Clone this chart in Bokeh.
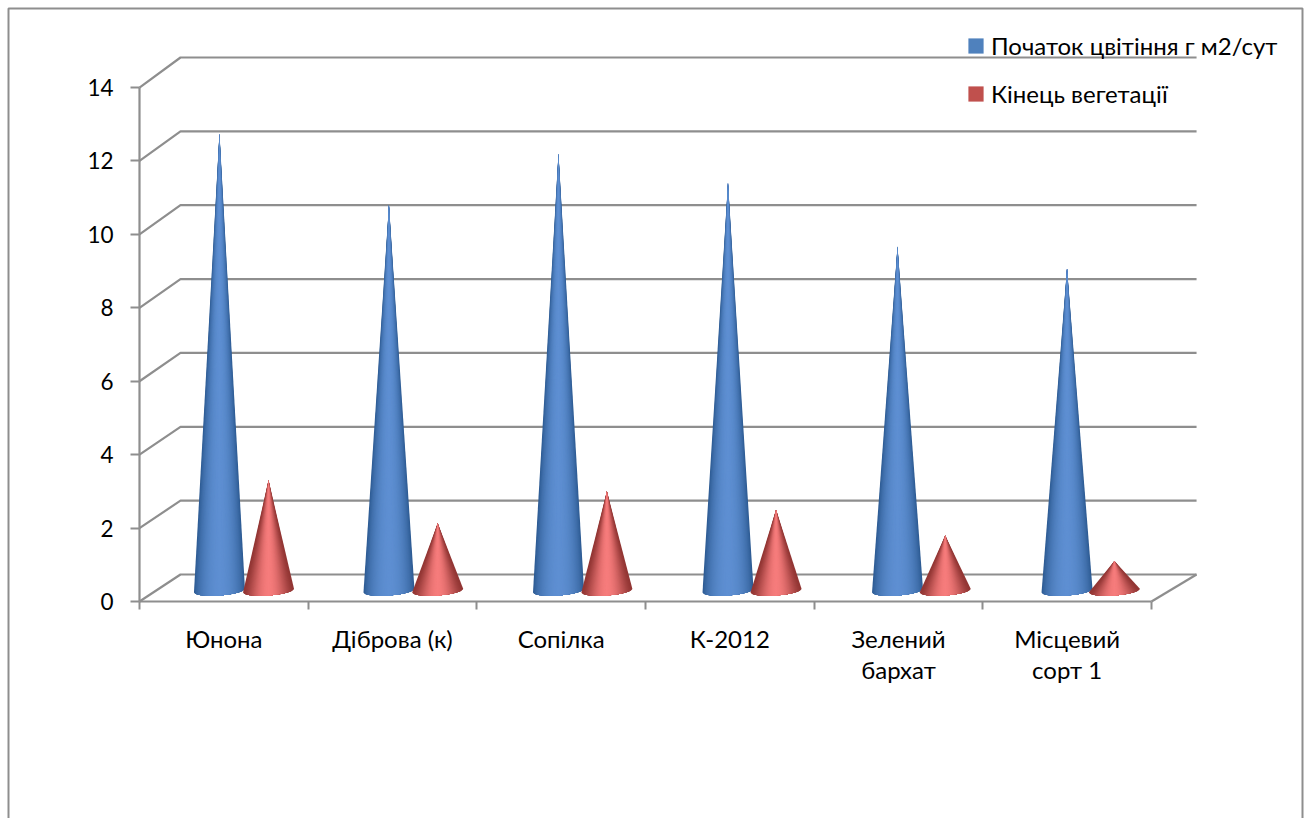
import numpy as np
from bokeh.embed import file_html
from bokeh.resources import INLINE
from bokeh.models import (ColumnDataSource, FixedTicker, Legend, LegendItem,
                          LinearAxis, Range1d)
from bokeh.plotting import figure

# Chart data
varieties = ["Юнона", "Діброва (к)", "Сопілка", "К-2012", "Зелений\nбархат", "Місцевий\nсорт 1"]
flowering = [12.45, 10.5, 11.9, 11.1, 9.37, 8.77]
season_end = [3.0, 1.83, 2.7, 2.2, 1.5, 0.8]
series_names = ["Початок цвітіння г м2/сут", "Кінець вегетації"]
y_ticks = [0, 2, 4, 6, 8, 10, 12, 14]

W, H = 1306, 818
X0, SLOT = 139.0, 168.67      # screen x of the axis origin, width of a category
Y0, UNIT = 601.0, 36.71       # screen y of value 0, pixels per value unit
FONT = "Lato"
FONT_SIZE = "24px"
GREY = "#8e8e8e"


def dx(px):
    return (px - X0) / SLOT


def dy(py):
    return (Y0 - py) / UNIT


p = figure(width=W, height=H, output_backend="svg", toolbar_location=None,
           x_range=Range1d(dx(0), dx(W)), y_range=Range1d(dy(H), dy(0)),
           min_border=0, outline_line_color=None, background_fill_color="white",
           x_axis_type=None, y_axis_type=None)
p.grid.visible = False

# Surrounding chart-area border, open at the bottom edge
p.line([dx(8), dx(8), dx(1302), dx(1302)], [dy(818), dy(8), dy(8), dy(818)],
       line_color=GREY, line_width=2)

# Pseudo-3D box: back-wall gridlines, left-wall diagonals and the floor
DEPTH_X, DEPTH_Y, BACK_SCALE = 0.243, 0.735, 1.006
BACK_RIGHT = 6.267
for v in y_ticks:
    by = v * BACK_SCALE + DEPTH_Y
    p.line([0, DEPTH_X, BACK_RIGHT], [v, by, by], line_color=GREY, line_width=2.2)
p.line([6, BACK_RIGHT], [0, DEPTH_Y], line_color=GREY, line_width=2.2)

# Value axis and category axis, pinned to the front corner of the box.
# Category names sit on the major ticks; the slot separators are minor ticks.
yaxis = LinearAxis(fixed_location=0, bounds=(0, 14), ticker=FixedTicker(ticks=y_ticks))
xaxis = LinearAxis(fixed_location=0, bounds=(0, 6),
                   ticker=FixedTicker(ticks=[i + 0.5 for i in range(6)],
                                      minor_ticks=list(range(7))),
                   major_label_overrides={i + 0.5: n for i, n in enumerate(varieties)},
                   major_tick_line_color=None, major_tick_out=0, major_tick_in=0,
                   minor_tick_line_color=GREY, minor_tick_line_width=2,
                   minor_tick_out=8, minor_tick_in=0, major_label_standoff=14,
                   major_label_text_line_height=1.08)
for ax in (yaxis, xaxis):
    ax.major_label_text_font = FONT
    ax.major_label_text_color = "#000000"
    ax.axis_line_color = GREY
    ax.axis_line_width = 2.2
yaxis.minor_tick_line_color = None
yaxis.major_tick_line_color = GREY
yaxis.major_tick_line_width = 2
yaxis.major_tick_in = 0
yaxis.major_tick_out = 9
yaxis.major_label_standoff = 17
yaxis.major_label_text_font_size = "22.5px"
xaxis.major_label_text_font_size = FONT_SIZE
p.add_layout(yaxis, "left")
p.add_layout(xaxis, "below")

# Shaded cones: nested fans from the widest, darkest shell to the bright core
BASE_LEVEL = 0.30
HALF_W = 0.151
HALF_H = 0.136
TILT = 0.05
LAYERS = 26


def lerp(a, b, t):
    return "#%02x%02x%02x" % tuple(int(round(a[k] + (b[k] - a[k]) * t)) for k in range(3))


def cone(cx, value, edge, mid, power):
    xs, ys, cols = [], [], []
    for k in range(LAYERS):
        u = 1 - k / LAYERS
        half = np.arccos(u)
        theta = np.linspace(np.pi - half, half, 60)
        bx = cx + HALF_W * np.cos(theta)
        by = BASE_LEVEL - HALF_H * np.sin(theta) + TILT * np.cos(theta)
        xs.append([cx] + bx.tolist())
        ys.append([BASE_LEVEL + value] + by.tolist())
        cols.append(lerp(edge, mid, (1 - u ** 2) ** power))
    src = ColumnDataSource(dict(xs=xs, ys=ys, c=cols))
    p.patches("xs", "ys", source=src, fill_color="c", line_color=None)


BLUE_EDGE, BLUE_MID = (46, 92, 148), (94, 143, 210)
RED_EDGE, RED_MID = (146, 54, 52), (246, 124, 124)
for i in range(6):
    cone(i * 1.005 + 0.474, flowering[i], BLUE_EDGE, BLUE_MID, 0.8)
    cone(i * 1.003 + 0.765, season_end[i], RED_EDGE, RED_MID, 1.5)

# Legend, keyed by flat-colour swatches that have no drawn extent of their own
nan = float("nan")
blue_key = p.quad(left=[nan], right=[nan], top=[nan], bottom=[nan], fill_color="#4f81bd", line_color=None)
red_key = p.quad(left=[nan], right=[nan], top=[nan], bottom=[nan], fill_color="#c0504d", line_color=None)
legend = Legend(items=[LegendItem(label=series_names[0], renderers=[blue_key]),
                       LegendItem(label=series_names[1], renderers=[red_key])],
                location=(966, H - 108), orientation="vertical",
                glyph_width=19, glyph_height=19, label_standoff=6, spacing=19,
                padding=0, margin=0, border_line_color=None, background_fill_alpha=0,
                label_text_font=FONT, label_text_font_size=FONT_SIZE, label_text_color="#000000")
p.add_layout(legend, "center")

open("out.html", "w").write(file_html(p, INLINE))
